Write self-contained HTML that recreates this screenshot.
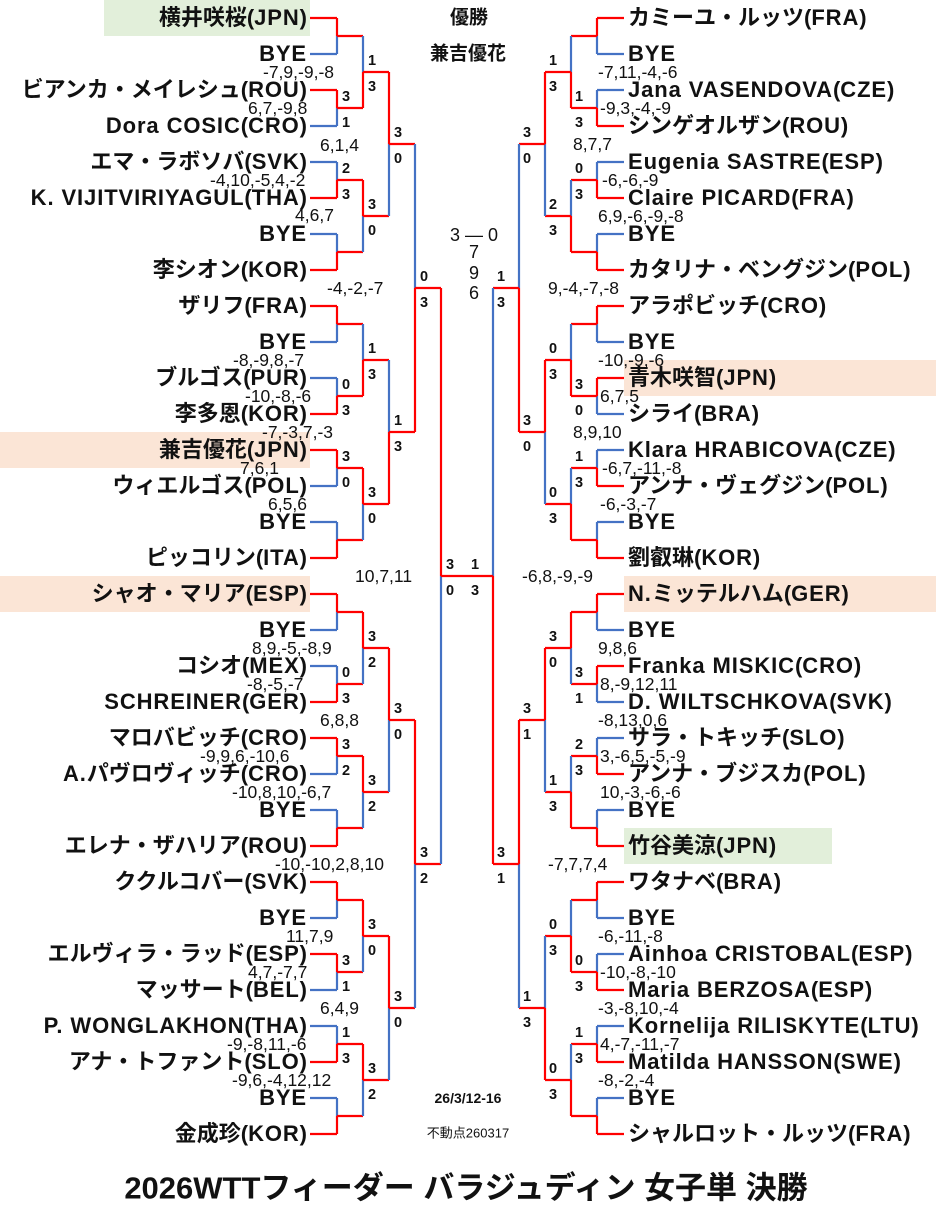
<!DOCTYPE html>
<html><head><meta charset="utf-8">
<style>
html,body{margin:0;padding:0;background:#fff;}
#w{position:relative;width:936px;height:1224px;overflow:hidden;font-family:"Liberation Sans","Noto Sans CJK JP",sans-serif;color:#111;}
.n{position:absolute;height:36px;line-height:36px;font-size:22px;font-weight:bold;white-space:nowrap;}
.n .l{letter-spacing:0.9px;}
.L{right:629px;text-align:right;}
.R{left:628px;text-align:left;}
.bg{position:absolute;height:36px;}
svg{position:absolute;left:0;top:0;}
</style></head><body>
<div id="w">
<div class="bg" style="left:104px;top:0;width:206px;background:#e2efda"></div>
<div class="bg" style="left:0;top:432px;width:310px;background:#fbe5d6"></div>
<div class="bg" style="left:0;top:576px;width:310px;background:#fbe5d6"></div>
<div class="bg" style="left:624px;top:360px;width:312px;background:#fbe5d6"></div>
<div class="bg" style="left:624px;top:576px;width:312px;background:#fbe5d6"></div>
<div class="bg" style="left:624px;top:828px;width:208px;background:#e2efda"></div>
<svg id="s" width="936" height="1224" xmlns="http://www.w3.org/2000/svg"></svg>
</div>
<script>
var W=document.getElementById('w'),S=document.getElementById('s');
var RED='#ff0000',BLUE='#4472c4';
var LN=["横井咲桜(JPN)","BYE","ビアンカ・メイレシュ(ROU)","Dora COSIC(CRO)","エマ・ラボソバ(SVK)","K. VIJITVIRIYAGUL(THA)","BYE","李シオン(KOR)","ザリフ(FRA)","BYE","ブルゴス(PUR)","李多恩(KOR)","兼吉優花(JPN)","ウィエルゴス(POL)","BYE","ピッコリン(ITA)","シャオ・マリア(ESP)","BYE","コシオ(MEX)","SCHREINER(GER)","マロバビッチ(CRO)","A.パヴロヴィッチ(CRO)","BYE","エレナ・ザハリア(ROU)","ククルコバー(SVK)","BYE","エルヴィラ・ラッド(ESP)","マッサート(BEL)","P. WONGLAKHON(THA)","アナ・トファント(SLO)","BYE","金成珍(KOR)"];
var RN=["カミーユ・ルッツ(FRA)","BYE","Jana VASENDOVA(CZE)","シンゲオルザン(ROU)","Eugenia SASTRE(ESP)","Claire PICARD(FRA)","BYE","カタリナ・ベングジン(POL)","アラポビッチ(CRO)","BYE","青木咲智(JPN)","シライ(BRA)","Klara HRABICOVA(CZE)","アンナ・ヴェグジン(POL)","BYE","劉叡琳(KOR)","N.ミッテルハム(GER)","BYE","Franka MISKIC(CRO)","D. WILTSCHKOVA(SVK)","サラ・トキッチ(SLO)","アンナ・ブジスカ(POL)","BYE","竹谷美涼(JPN)","ワタナベ(BRA)","BYE","Ainhoa CRISTOBAL(ESP)","Maria BERZOSA(ESP)","Kornelija RILISKYTE(LTU)","Matilda HANSSON(SWE)","BYE","シャルロット・ルッツ(FRA)"];
function fmt(t){return t.replace(/([A-Za-z.][A-Za-z. ]*[A-Za-z.]|[A-Za-z])/g,'<span class="l">$1</span>');}
function names(arr,cls){arr.forEach(function(t,i){var d=document.createElement('div');d.className='n '+cls;d.style.top=(36*i)+'px';d.innerHTML=fmt(t);W.appendChild(d);});}
names(LN,'L');names(RN,'R');
var h='';
function line(x1,y1,x2,y2,c){h+='<line x1="'+x1+'" y1="'+y1+'" x2="'+x2+'" y2="'+y2+'" stroke="'+c+'" stroke-width="2.2"/>';}
function txt(x,y,t,sz,w,anc){h+='<text x="'+x+'" y="'+y+'" font-size="'+sz+'" font-weight="'+(w||'normal')+'" text-anchor="'+(anc||'middle')+'" dominant-baseline="central" font-family="Liberation Sans, Noto Sans CJK JP, sans-serif" fill="#111">'+t+'</text>';}
function side(V,start,res,dir){
  var ys=[];for(var i=0;i<32;i++)ys.push(18+36*i);
  var px=start;
  for(var lv=0;lv<5;lv++){
    var v=V[lv],r=res[lv],ny=[];
    for(var k=0;k<ys.length/2;k++){
      var a=ys[2*k],b=ys[2*k+1],m=(a+b)/2,s=r[k];
      var topW=(s=='T')||(s.length==2&&+s[0]>+s[1]);
      var ct=topW?RED:BLUE,cb=topW?BLUE:RED;
      var ht=lv==0?ct:RED,hb=lv==0?cb:RED;
      line(px,a,v,a,ht);line(px,b,v,b,hb);
      line(v,a,v,m,ct);line(v,m,v,b,cb);
      if(s.length==2&&s!='T'){
        var lx=dir>0?v+9:v-18;
        txt(lx,m-11,s[0],14.5,'bold');txt(lx,m+15,s[1],14.5,'bold');
      }
      ny.push(m);
    }
    ys=ny;px=v;
  }
}
side([337,363,389,415,441],310,[
 ["T","31","23","B","T","03","30","B","T","03","32","B","T","31","13","B"],
 ["13","30","13","30","32","32","30","32"],
 ["30","13","30","30"],["03","32"],["30"]],1);
side([597,571,545,519,493],624,[
 ["T","13","03","B","T","30","13","B","T","31","23","B","T","03","13","B"],
 ["13","23","03","03","30","13","03","03"],
 ["30","30","31","13"],["13","31"],["13"]],-1);
line(441,576,493,576,RED);
var G=[["-7,9,-9,-8",263,72],["6,7,-9,8",248,108],["6,1,4",320,145],["-4,10,-5,4,-2",210,180],["4,6,7",295,215],["-4,-2,-7",327,288],["-8,-9,8,-7",233,360],["-10,-8,-6",245,396],["-7,-3,7,-3",262,432],["7,6,1",240,468],["6,5,6",268,504],["10,7,11",355,576],["8,9,-5,-8,9",252,648],["-8,-5,-7",247,684],["6,8,8",320,720],["-9,9,6,-10,6",200,756],["-10,8,10,-6,7",232,792],["-10,-10,2,8,10",275,864],["11,7,9",286,936],["4,7,-7,7",248,972],["6,4,9",320,1008],["-9,-8,11,-6",227,1044],["-9,6,-4,12,12",232,1080],
["-7,11,-4,-6",598,72],["-9,3,-4,-9",600,108],["8,7,7",573,144],["-6,-6,-9",602,180],["6,9,-6,-9,-8",598,216],["9,-4,-7,-8",548,288],["-10,-9,-6",598,360],["6,7,5",600,396],["8,9,10",573,432],["-6,7,-11,-8",602,468],["-6,-3,-7",600,504],["-6,8,-9,-9",522,576],["9,8,6",598,648],["8,-9,12,11",600,684],["-8,13,0,6",598,720],["3,-6,5,-5,-9",600,756],["10,-3,-6,-6",600,792],["-7,7,7,4",548,864],["-6,-11,-8",598,936],["-10,-8,-10",600,972],["-3,-8,10,-4",598,1008],["4,-7,-11,-7",600,1044],["-8,-2,-4",598,1080]];
G.forEach(function(g){txt(g[1],g[2],g[0],17.5,'normal','start');});
txt(469,18,'優勝',19,'bold');txt(468,54,'兼吉優花',19,'bold');
txt(474,235,'3 ― 0',18);txt(474,252,'7',18);txt(474,273,'9',18);txt(474,293,'6',18);
txt(468,1098,'26/3/12-16',14,'bold');txt(468,1133,'不動点260317',13);
h+='<text x="466" y="1188" font-size="31" font-weight="bold" text-anchor="middle" dominant-baseline="central" font-family="Liberation Sans, Noto Sans CJK JP, sans-serif" fill="#111">2026WTTフィーダー バラジュディン 女子単 決勝</text>';
S.innerHTML=h;
</script>
</body></html>
